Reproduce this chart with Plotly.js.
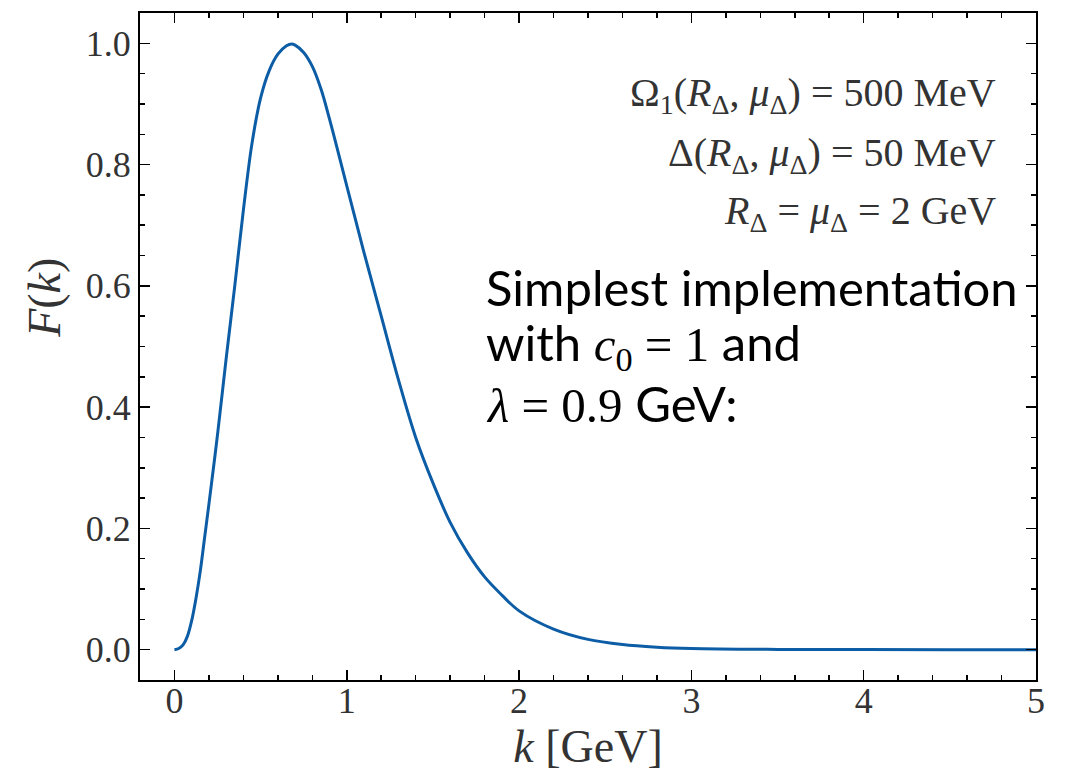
<!DOCTYPE html>
<html>
<head>
<meta charset="utf-8">
<script src="https://cdn.plot.ly/plotly-3.0.1.min.js"></script>
<style>html,body{margin:0;padding:0;background:#fff;}#chart{width:1065px;height:779px;}</style>
</head>
<body>
<div id="chart"></div>
<script>
// k in GeV
const k = [0, 0.025, 0.05, 0.075, 0.1, 0.125, 0.15, 0.175, 0.2, 0.25, 0.3, 0.35, 0.4, 0.45, 0.5, 0.55, 0.6, 0.65, 0.68, 0.7, 0.75, 0.8, 0.85, 0.9, 1.0, 1.1, 1.2, 1.3, 1.4, 1.5, 1.6, 1.7, 1.8, 1.9, 2.0, 2.2, 2.4, 2.6, 2.8, 3.0, 3.5, 4.0, 4.5, 5.0];
// F(k)
const F = [0, 0.002, 0.008, 0.022, 0.048, 0.085, 0.13, 0.185, 0.24, 0.355, 0.48, 0.60, 0.725, 0.835, 0.91, 0.955, 0.982, 0.996, 0.999, 0.997, 0.985, 0.962, 0.925, 0.875, 0.765, 0.655, 0.55, 0.445, 0.35, 0.275, 0.21, 0.16, 0.12, 0.09, 0.064, 0.034, 0.017, 0.0085, 0.0042, 0.002, 0.0005, 0.0001, 0, 0];

const xTicks = [0, 1, 2, 3, 4, 5];
const yTicks = [0, 0.2, 0.4, 0.6, 0.8, 1.0];

const infoLines = [
  "Ω<sub>1</sub>(<i>R</i><sub>Δ</sub>, <i>μ</i><sub>Δ</sub>) = 500 MeV",
  "Δ(<i>R</i><sub>Δ</sub>, <i>μ</i><sub>Δ</sub>) = 50 MeV",
  "<i>R</i><sub>Δ</sub> = <i>μ</i><sub>Δ</sub> = 2 GeV"
];

const noteLines = [
  "Simplest implementation",
  "with <span style=\"font-family:Liberation Serif\"><i>c</i><sub>0</sub> = 1</span> and",
  "<span style=\"font-family:Liberation Serif\"><i>λ</i> = 0.9</span> GeV:"
];

const serif = "'Liberation Serif', 'DejaVu Serif', serif";
const sans = "Lato, 'Noto Sans', sans-serif";

const trace = {
  x: k, y: F, type: 'scatter', mode: 'lines',
  line: {color: '#0C5DA5', width: 3, shape: 'spline', smoothing: 1},
  hoverinfo: 'skip'
};

const infoY = [0.877, 0.787, 0.700];
const annotations = infoLines.map((t, i) => ({
  text: t, xref: 'paper', yref: 'paper', x: 0.9576, y: infoY[i],
  xanchor: 'right', yanchor: 'middle', showarrow: false,
  font: {family: serif, size: 40, color: '#333'}
}));
const noteY = [0.589, 0.502, 0.415];
noteLines.forEach((t, i) => annotations.push({
  text: t, xref: 'paper', yref: 'paper', x: 0.384, y: noteY[i],
  xanchor: 'left', yanchor: 'middle', align: 'left', showarrow: false,
  font: {family: sans, size: 49, color: '#000'}
}));
// y-axis label
annotations.push({
  text: "<i>F</i>(<i>k</i>)", xref: 'paper', yref: 'paper', x: -0.106, y: 0.573,
  xanchor: 'center', yanchor: 'middle', textangle: -90, showarrow: false,
  font: {family: serif, size: 46, color: '#333'}
});

const axisCommon = {
  showline: true, linecolor: '#000', linewidth: 2, mirror: 'allticks',
  ticks: 'inside', ticklen: 10, tickwidth: 1.5, tickcolor: '#000',
  showgrid: false, zeroline: false,
  tickfont: {family: serif, size: 36, color: '#333'}
};

const layout = {
  width: 1065, height: 779,
  margin: {l: 140, r: 29, t: 13, b: 99},
  paper_bgcolor: '#fff', plot_bgcolor: '#fff',
  showlegend: false,
  xaxis: Object.assign({}, axisCommon, {
    range: [-0.2, 5], tickvals: xTicks, ticktext: xTicks.map(String),
    ticklabelstandoff: -12,
    minor: {dtick: 0.2, tick0: 0, ticks: 'inside', ticklen: 5, tickwidth: 1.5, tickcolor: '#000', showgrid: false},
    title: {text: "<i>k</i> [GeV]", font: {family: serif, size: 46, color: '#333'}, standoff: 6}
  }),
  yaxis: Object.assign({}, axisCommon, {
    range: [-0.05, 1.05], tickvals: yTicks, ticktext: yTicks.map(v => v.toFixed(1)),
    minor: {dtick: 0.05, tick0: 0, ticks: 'inside', ticklen: 5, tickwidth: 1.5, tickcolor: '#000', showgrid: false}
  }),
  annotations: annotations
};

Plotly.newPlot('chart', [trace], layout, {displayModeBar: false, staticPlot: true});
</script>
</body>
</html>
